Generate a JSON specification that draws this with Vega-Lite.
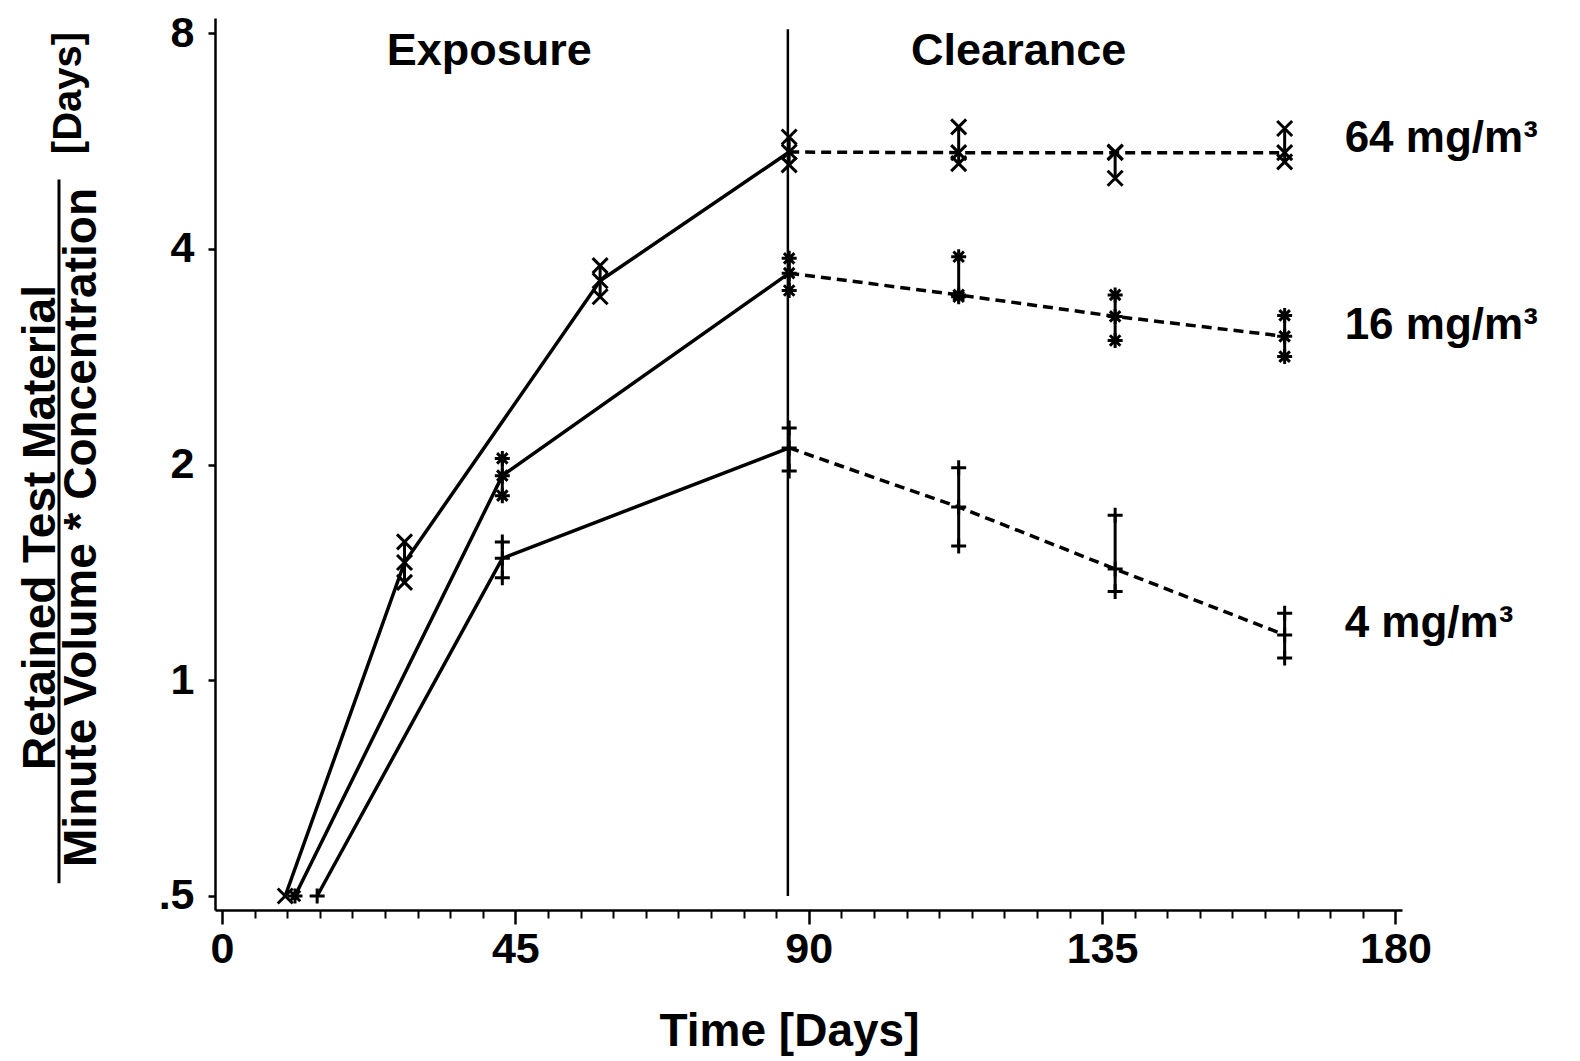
{
  "$schema": "https://vega.github.io/schema/vega-lite/v6.json",
  "width": 1187,
  "height": 892,
  "autosize": {"type": "none"},
  "padding": {"left": 215, "top": 18, "right": 178, "bottom": 151},
  "background": "white",
  "config": {"view": {"stroke": null}, "font": "Liberation Sans"},
  "resolve": {"axis": {"x": "independent"}},
  "data": {"values": [
    {"conc": "64 mg/m³", "day": 9.7, "mean": 0.5},
    {"conc": "64 mg/m³", "day": 28, "mean": 1.46, "low": 1.37, "high": 1.56},
    {"conc": "64 mg/m³", "day": 58, "mean": 3.61, "low": 3.43, "high": 3.79},
    {"conc": "64 mg/m³", "day": 87, "mean": 5.46, "low": 5.24, "high": 5.73},
    {"conc": "64 mg/m³", "day": 113, "mean": 5.45, "low": 5.26, "high": 5.92},
    {"conc": "64 mg/m³", "day": 137, "mean": 5.45, "low": 5.02, "high": 5.46},
    {"conc": "64 mg/m³", "day": 163, "mean": 5.45, "low": 5.29, "high": 5.89},
    {"conc": "16 mg/m³", "day": 11.2, "mean": 0.5},
    {"conc": "16 mg/m³", "day": 43, "mean": 1.93, "low": 1.81, "high": 2.04},
    {"conc": "16 mg/m³", "day": 87, "mean": 3.7, "low": 3.5, "high": 3.88},
    {"conc": "16 mg/m³", "day": 113, "mean": 3.45, "low": 3.43, "high": 3.9},
    {"conc": "16 mg/m³", "day": 137, "mean": 3.22, "low": 2.98, "high": 3.45},
    {"conc": "16 mg/m³", "day": 163, "mean": 3.02, "low": 2.83, "high": 3.23},
    {"conc": "4 mg/m³", "day": 14.6, "mean": 0.5},
    {"conc": "4 mg/m³", "day": 43, "mean": 1.48, "low": 1.39, "high": 1.56},
    {"conc": "4 mg/m³", "day": 87, "mean": 2.11, "low": 1.96, "high": 2.25},
    {"conc": "4 mg/m³", "day": 113, "mean": 1.745, "low": 1.54, "high": 1.98},
    {"conc": "4 mg/m³", "day": 137, "mean": 1.43, "low": 1.33, "high": 1.7},
    {"conc": "4 mg/m³", "day": 163, "mean": 1.157, "low": 1.074, "high": 1.24}
  ]},
  "layer": [
    {
      "transform": [{"filter": "datum.day <= 87"}],
      "mark": {"type": "line", "color": "black", "strokeWidth": 3.5},
      "encoding": {
        "x": {"field": "day", "type": "quantitative",
          "scale": {"domain": [-1.07, 181], "nice": false, "zero": false},
          "axis": {"orient": "bottom", "values": [0, 45, 90, 135, 180], "grid": false,
            "tickSize": 14, "tickWidth": 2.5, "tickColor": "black",
            "domainColor": "black", "domainWidth": 2.5,
            "labelFont": "Liberation Sans", "labelFontWeight": "bold", "labelFontSize": 43,
            "labelColor": "black", "labelPadding": 4, "labelFlush": false,
            "title": "Time [Days]", "titleFont": "Liberation Sans", "titleFontWeight": "bold",
            "titleFontSize": 46, "titleColor": "black", "titleX": 574, "titlePadding": 38}},
        "y": {"field": "mean", "type": "quantitative",
          "scale": {"type": "log", "base": 2, "domain": [0.478, 8.4], "nice": false, "zero": false},
          "axis": {"values": [0.5, 1, 2, 4, 8], "grid": false,
            "labelExpr": "datum.value == 0.5 ? '.5' : datum.label",
            "tickSize": 7, "tickWidth": 2.5, "tickColor": "black",
            "domainColor": "black", "domainWidth": 2.5,
            "labelFont": "Liberation Sans", "labelFontWeight": "bold", "labelFontSize": 43,
            "labelColor": "black", "labelPadding": 14,
            "title": ["Retained Test Material", "Minute Volume * Concentration"],
            "titleFont": "Liberation Sans", "titleFontWeight": "bold", "titleFontSize": 46,
            "titleColor": "black", "titleAngle": -90, "titleAlign": "center",
            "titleBaseline": "alphabetic", "titleLineHeight": 41,
            "titleX": -161, "titleY": 509}},
        "detail": {"field": "conc"}
      }
    },
    {
      "transform": [{"filter": "datum.day >= 87"}],
      "mark": {"type": "line", "color": "black", "strokeWidth": 3.5, "strokeDash": [10, 6]},
      "encoding": {
        "x": {"field": "day", "type": "quantitative",
          "axis": {"orient": "bottom", "values": [5, 10, 15, 20, 25, 30, 35, 40, 50, 55, 60, 65, 70, 75, 80, 85, 95, 100, 105, 110, 115, 120, 125, 130, 140, 145, 150, 155, 160, 165, 170, 175],
            "labels": false, "domain": false, "grid": false, "title": null,
            "tickSize": 8, "tickWidth": 2, "tickColor": "black"}},
        "y": {"field": "mean", "type": "quantitative"},
        "detail": {"field": "conc"}
      }
    },
    {
      "transform": [{"filter": "datum.low != null"}],
      "mark": {"type": "rule", "color": "black", "strokeWidth": 3},
      "encoding": {
        "x": {"field": "day", "type": "quantitative", "axis": null},
        "y": {"field": "low", "type": "quantitative"},
        "y2": {"field": "high"}
      }
    },
    {
      "transform": [
        {"fold": ["low", "mean", "high"], "as": ["stat", "value"]},
        {"filter": "datum.value != null"}
      ],
      "mark": {"type": "point", "filled": false, "color": "black", "strokeWidth": 3, "size": 225, "opacity": 1},
      "encoding": {
        "x": {"field": "day", "type": "quantitative", "axis": null},
        "y": {"field": "value", "type": "quantitative"},
        "shape": {"field": "conc", "type": "nominal", "legend": null,
          "scale": {"domain": ["4 mg/m³", "16 mg/m³", "64 mg/m³"],
            "range": ["M-1,0L1,0M0,-1L0,1",
                      "M-1,0L1,0M0,-1L0,1M-0.7,-0.7L0.7,0.7M-0.7,0.7L0.7,-0.7",
                      "M-1,-1L1,1M-1,1L1,-1"]}}
      }
    },
    {
      "transform": [{"filter": "datum.day == 163"}],
      "mark": {"type": "text", "align": "left", "baseline": "middle", "dx": 60, "dy": 11,
        "font": "Liberation Sans", "fontWeight": "bold", "fontSize": 44, "color": "black"},
      "encoding": {
        "x": {"field": "day", "type": "quantitative", "axis": null},
        "y": {"field": "high", "type": "quantitative"},
        "text": {"field": "conc"}
      }
    },
    {
      "data": {"values": [{"phase": "Exposure"}]},
      "mark": {"type": "text", "align": "center", "baseline": "middle",
        "font": "Liberation Sans", "fontWeight": "bold", "fontSize": 45, "color": "black"},
      "encoding": {
        "x": {"datum": 41.0, "type": "quantitative", "axis": null},
        "y": {"datum": 7.55, "type": "quantitative"},
        "text": {"field": "phase"}
      }
    },
    {
      "data": {"values": [{"phase": "Clearance"}]},
      "mark": {"type": "text", "align": "center", "baseline": "middle",
        "font": "Liberation Sans", "fontWeight": "bold", "fontSize": 45, "color": "black"},
      "encoding": {
        "x": {"datum": 122.2, "type": "quantitative", "axis": null},
        "y": {"datum": 7.55, "type": "quantitative"},
        "text": {"field": "phase"}
      }
    },
    {
      "data": {"values": [{"event": "end of exposure"}]},
      "mark": {"type": "rule", "color": "black", "strokeWidth": 2.5},
      "encoding": {
        "x": {"datum": 86.8, "type": "quantitative", "axis": null},
        "y": {"datum": 0.5, "type": "quantitative"},
        "y2": {"datum": 8.1}
      }
    },
    {
      "data": {"values": [{"part": "fraction bar"}]},
      "mark": {"type": "rule", "color": "black", "strokeWidth": 3, "clip": false},
      "encoding": {
        "x": {"datum": -25.0, "type": "quantitative", "axis": null},
        "y": {"datum": 0.521, "type": "quantitative"},
        "y2": {"datum": 5.0}
      }
    },
    {
      "data": {"values": [{"unit": "[Days]"}]},
      "mark": {"type": "text", "align": "center", "baseline": "alphabetic", "angle": 270,
        "font": "Liberation Sans", "fontWeight": "bold", "fontSize": 40, "color": "black", "clip": false},
      "encoding": {
        "x": {"datum": -21.6, "type": "quantitative", "axis": null},
        "y": {"datum": 6.6, "type": "quantitative"},
        "text": {"field": "unit"}
      }
    }
  ]
}
